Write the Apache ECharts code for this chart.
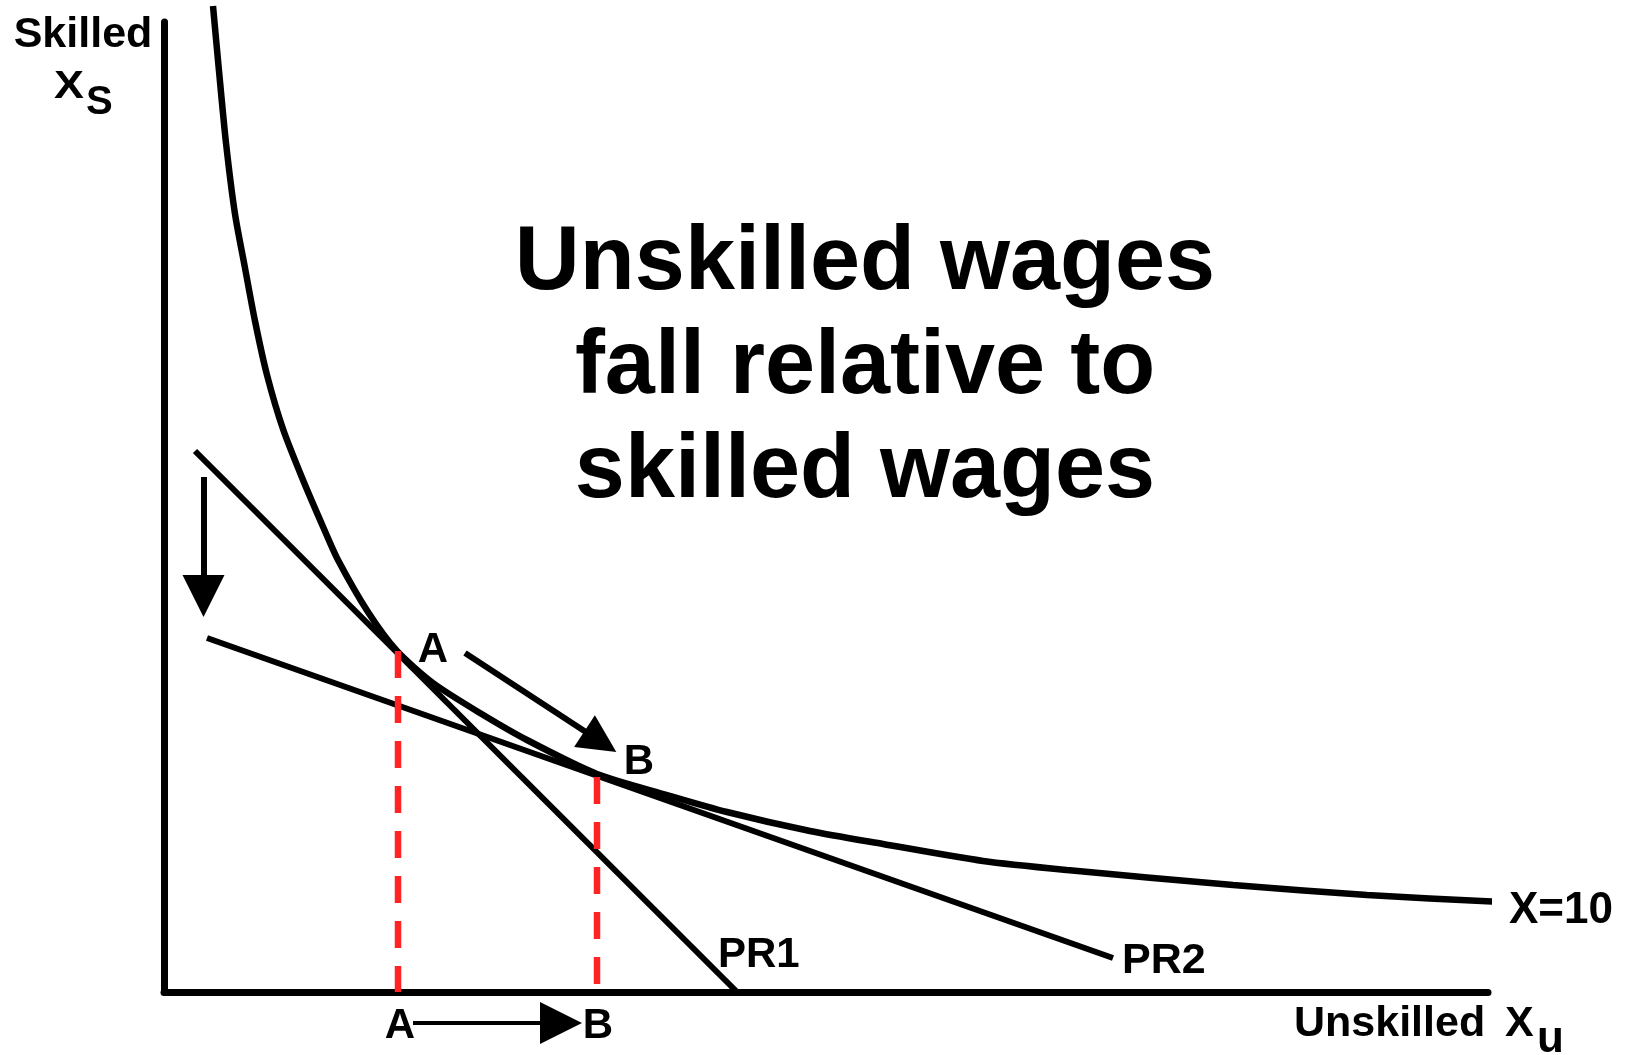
<!DOCTYPE html>
<html>
<head>
<meta charset="utf-8">
<title>Unskilled wages fall relative to skilled wages</title>
<script src="https://cdn.jsdelivr.net/npm/echarts@6/dist/echarts.min.js"></script>
<style>
  html, body { margin: 0; padding: 0; background: #fff; }
  #chart { width: 1632px; height: 1055px; }
</style>
</head>
<body>
<div id="chart"></div>
<script>
// isoquant X=10 (axis units: 1 unit ~ 10px)
const isoX = [4.9, 5.5, 6.2, 7.1, 8.1, 9.1, 10.3, 11.9, 13.9, 16.0, 17.4, 20.4, 23.3, 26.9, 31.6, 36.3, 43.3, 50.3, 56.3, 64.6, 71.9, 81.9, 90.3, 106.9, 120.3, 133.9]
const isoY = [98.6, 92.1, 84.9, 77.8, 72.4, 67.1, 61.7, 56.3, 51.2, 46.3, 43.2, 38.0, 34.1, 30.9, 27.9, 25.2, 21.8, 19.7, 18.0, 16.1, 14.8, 13.1, 12.2, 10.7, 9.7, 9.0]

// price ratio lines
const pr1 = [[3.1, 54.1], [57.3, 0]]
const pr2 = [[4.3, 35.4], [94.9, 3.4]]

// red drop lines from A and B to the x axis
const dropA = [[23.4, 34.1], [23.4, 0]]
const dropB = [[43.3, 21.5], [43.3, -0.8]]

// arrows (end point = centre of the arrow head)
const arrowDown = [[3.95, 51.5], [3.95, 39.6]]
const arrowAB = [[30.1, 33.9], [43.64, 25.05]]
const arrowAxis = [[24.9, -3.1], [39.7, -3.1]]

const xMax = 132.4
const yMax = 97

const FONT = '"Liberation Sans", Arial, Helvetica, sans-serif'

const txt = (text, x, y, size, align, scaleX) => ({
  type: 'text',
  x: x,
  y: y,
  scaleX: scaleX || 1,
  z: 10,
  style: {
    text: text,
    fill: '#000',
    fontFamily: FONT,
    fontWeight: 'bold',
    fontSize: size,
    align: align || 'left',
    verticalAlign: 'middle'
  }
})

const chart = echarts.init(document.getElementById('chart'))

const lineSeries = (data, opts) => Object.assign({
  type: 'line',
  data: data,
  showSymbol: false,
  clip: false,
  silent: true,
  lineStyle: { color: '#000', width: 6 },
  z: 3
}, opts)

chart.setOption({
  animation: false,
  backgroundColor: '#fff',
  grid: { left: 164, right: 144, top: 22, bottom: 63 },
  xAxis: {
    type: 'value',
    min: 0,
    max: xMax,
    axisLine: { show: true, lineStyle: { color: '#000', width: 7 } },
    axisTick: { show: false },
    axisLabel: { show: false },
    splitLine: { show: false }
  },
  yAxis: {
    type: 'value',
    min: 0,
    max: yMax,
    axisLine: { show: true, lineStyle: { color: '#000', width: 7 } },
    axisTick: { show: false },
    axisLabel: { show: false },
    splitLine: { show: false }
  },
  series: [
    lineSeries(isoX.map((x, i) => [x, isoY[i]]), {
      smooth: 0.25,
      lineStyle: { color: '#000', width: 6.5 }
    }),
    lineSeries(pr1),
    lineSeries(pr2),
    lineSeries(dropA, {
      z: 5,
      lineStyle: { color: '#ff2424', width: 6.5, type: [27, 18] }
    }),
    lineSeries(dropB, {
      z: 5,
      lineStyle: { color: '#ff2424', width: 6.5, type: [27, 18] }
    }),
    {
      type: 'lines',
      coordinateSystem: 'cartesian2d',
      clip: false,
      silent: true,
      z: 4,
      symbol: ['none', 'triangle'],
      symbolSize: [28, 42],
      lineStyle: { color: '#000', width: 6, opacity: 1, curveness: 0 },
      data: [
        { coords: arrowDown },
        { coords: arrowAB, symbolSize: [28, 38] },
        { coords: arrowAxis, lineStyle: { width: 4 } }
      ]
    }
  ],
  graphic: [
    txt('Skilled', 83, 35, 43, 'center'),
    txt('X', 54, 87, 39, 'left', 1.15),
    txt('S', 86, 103, 40),
    txt('Unskilled', 1294, 1024, 43),
    txt('X', 1505, 1024, 43),
    txt('u', 1537, 1040, 44),
    txt('PR1', 718, 955, 42),
    txt('PR2', 1122, 961, 43),
    txt('X=10', 1509, 911, 44),
    txt('A', 433, 650, 42, 'center'),
    txt('B', 639, 762, 42, 'center'),
    txt('A', 400, 1026, 42, 'center'),
    txt('B', 598, 1026, 42, 'center'),
    {
      type: 'text',
      x: 865,
      y: 368,
      z: 10,
      style: {
        text: 'Unskilled wages\nfall relative to\nskilled wages',
        fill: '#000',
        fontFamily: FONT,
        fontWeight: 'bold',
        fontSize: 90,
        lineHeight: 104,
        align: 'center',
        verticalAlign: 'middle'
      }
    }
  ]
})
</script>
</body>
</html>
